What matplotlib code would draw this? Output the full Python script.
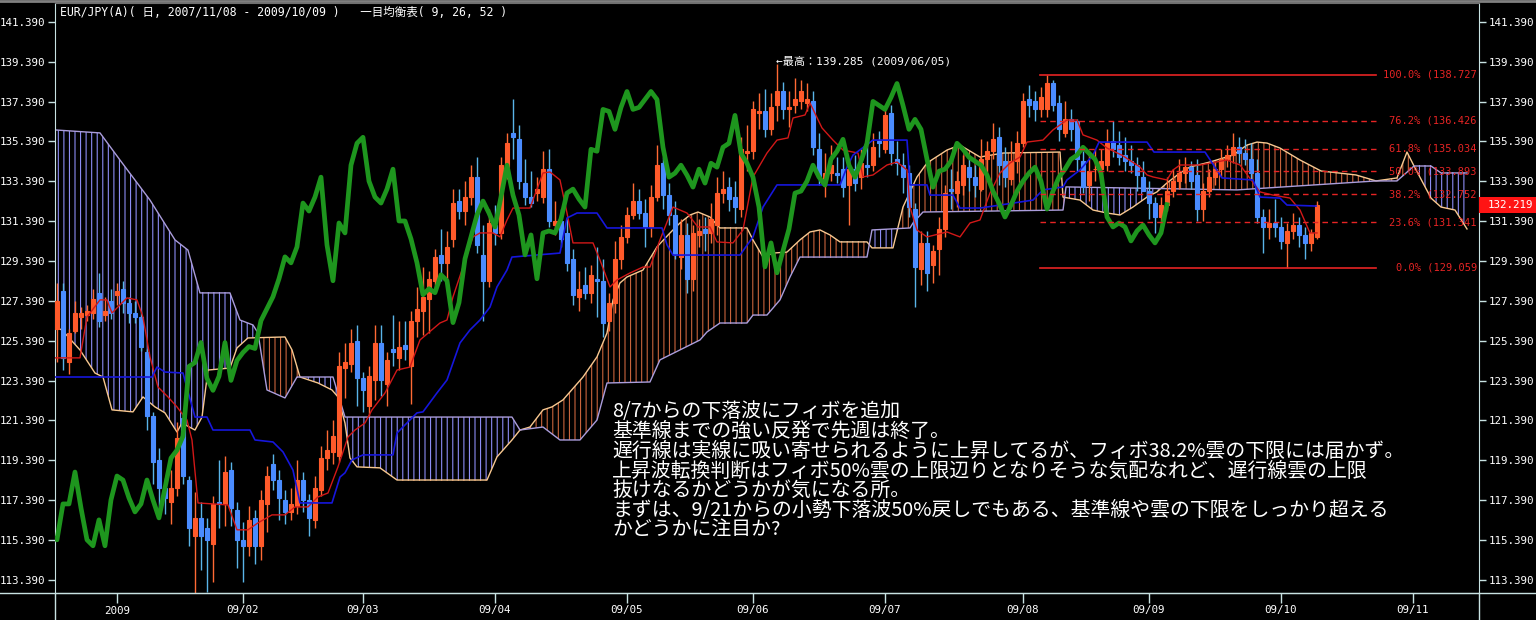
import matplotlib
matplotlib.use("Agg")
import matplotlib.pyplot as plt
import matplotlib.transforms as mtransforms
from matplotlib import font_manager
from matplotlib.patches import Polygon, Rectangle
from matplotlib.lines import Line2D
import numpy as np

plt.rcParams['font.family'] = ['Noto Sans CJK JP', 'DejaVu Sans']
plt.rcParams['hatch.linewidth'] = 0.8

# ---- daily candles, bar 0 = 2009/01/01 (first bar -10, last bar 200 = 2009/10/09)
first_bar = -10
opens = [
    126.0, 127.9, 124.3, 125.9, 126.6, 126.7, 126.8, 127.8, 126.7, 127.4,
    127.7, 128.0, 127.3, 126.8, 126.6, 124.8, 121.6, 119.4, 118.0, 117.3,
    118.0, 121.5, 118.4, 115.6, 116.5, 116.0, 115.2, 117.3, 117.2, 118.9,
    116.9, 115.4, 115.1, 116.5, 115.1, 117.2, 119.2, 118.4, 117.4, 116.8,
    117.1, 118.4, 117.4, 116.4, 117.9, 119.5, 119.8, 119.6, 124.0, 124.2,
    125.4, 123.5, 122.1, 123.4, 125.3, 123.2, 125.0, 124.5, 125.2, 124.1,
    126.4, 126.9, 127.5, 128.4, 129.7, 129.3, 130.5, 132.4, 131.9, 132.6,
    133.6, 129.7, 128.4, 131.2, 130.8, 134.1, 135.8, 135.5, 133.3, 132.6,
    132.8, 132.6, 134.0, 131.2, 131.4, 130.8, 129.5, 127.6, 128.2, 127.8,
    128.5, 128.4, 126.4, 127.3, 129.5, 130.6, 131.7, 132.4, 131.8, 131.1,
    132.6, 134.3, 132.7, 131.7, 129.6, 130.7, 128.5, 130.7, 131.0, 130.8,
    131.2, 132.8, 133.1, 132.6, 132.0, 134.8, 134.9, 136.8, 136.9, 136.0,
    137.2, 137.9, 137.0, 137.2, 137.4, 137.3, 137.4, 135.0, 133.5, 133.8,
    133.8, 134.0, 133.2, 134.0, 133.6, 134.2, 134.2, 135.4, 135.0, 136.8,
    134.5, 134.2, 133.8, 132.0, 129.0, 130.3, 129.2, 130.0, 131.0, 133.0,
    132.8, 133.2, 134.1, 133.6, 133.0, 134.5, 134.9, 135.6, 134.4, 133.5,
    134.4, 135.3, 137.5, 137.4, 137.0, 137.0, 138.3, 137.3, 135.8, 136.5,
    136.4, 134.4, 133.2, 134.0, 134.0, 134.2, 135.4, 135.2, 134.7, 134.4,
    134.2, 133.6, 132.9, 132.3, 131.6, 132.2, 132.9, 133.4, 133.8, 134.1,
    133.7, 132.0, 132.9, 133.6, 134.0, 134.5, 134.7, 135.1, 134.8, 134.5,
    133.8, 131.6, 131.1, 131.3, 131.1, 130.3, 130.9, 131.2, 130.7, 130.3,
    130.6]
highs = [
    128.3, 128.3, 126.0, 127.4, 127.1, 127.2, 128.0, 128.8, 127.6, 128.0,
    128.3, 128.4, 127.6, 127.4, 126.9, 125.0, 121.8, 120.0, 118.5, 118.9,
    121.3, 121.8, 118.6, 117.8, 117.3, 116.5, 117.6, 119.4, 119.6, 119.3,
    117.3, 116.3, 117.1, 116.9, 117.9, 119.1, 119.7, 118.9, 117.9, 118.0,
    119.4, 118.8, 117.7, 118.6, 120.1, 120.9, 121.4, 124.8, 125.3, 126.0,
    126.2, 123.8, 124.1, 126.2, 126.2, 124.8, 126.7, 126.4, 126.4, 126.9,
    128.1, 129.1, 128.9, 130.0, 131.0, 130.9, 133.0, 133.0, 133.4, 134.2,
    134.6, 131.2, 132.0, 132.2, 134.6, 135.8, 137.5, 136.2, 134.5, 133.9,
    133.6, 134.9, 135.0, 132.4, 132.0, 131.5, 130.0, 128.9, 129.1, 129.2,
    130.1, 129.5, 127.8, 130.4, 131.2, 132.1, 133.3, 133.0, 132.5, 133.2,
    135.2, 134.6, 133.3, 132.4, 131.5, 131.3, 131.2, 131.5, 131.6, 132.3,
    133.6, 133.9, 133.6, 133.4, 135.6, 136.2, 137.4, 137.8, 138.0, 137.8,
    139.285, 138.4, 137.9, 138.6, 138.5, 138.3, 137.9, 135.8, 134.8, 135.2,
    134.6, 134.6, 134.5, 134.7, 135.0, 135.2, 135.8, 135.9, 137.2, 137.2,
    135.4, 134.8, 134.2, 132.3, 130.9, 130.9, 130.2, 131.6, 133.2, 134.0,
    133.9, 134.7, 134.7, 134.2, 135.5, 135.4, 136.3, 136.1, 135.1, 135.4,
    135.9, 137.8, 138.2, 137.9, 138.1, 138.727, 138.5, 137.7, 137.4, 137.0,
    136.5, 134.9, 134.9, 135.0, 135.0, 136.0, 136.4, 135.9, 135.6, 135.2,
    134.6, 134.4, 133.4, 132.6, 132.6, 133.6, 134.0, 134.5, 134.6, 134.4,
    134.5, 133.3, 134.0, 134.4, 135.0, 135.2, 135.8, 135.6, 135.5, 135.3,
    134.5, 132.0, 132.0, 132.5, 131.6, 131.3, 131.8, 131.6, 131.1, 131.0,
    132.4]
lows = [
    124.3, 123.9, 123.7, 125.8, 126.0, 126.4, 126.5, 126.1, 126.4, 126.5,
    127.2, 126.8, 126.3, 126.3, 124.9, 120.9, 118.2, 116.7, 116.7, 116.2,
    117.6, 118.2, 115.1, 112.7, 113.9, 112.8, 113.3, 116.0, 116.1, 116.1,
    114.0, 113.3, 114.6, 114.2, 114.4, 115.8, 117.9, 116.4, 116.2, 116.4,
    116.7, 116.8, 115.6, 116.0, 117.6, 118.9, 119.2, 119.3, 122.5, 123.8,
    122.1, 121.8, 121.6, 122.4, 122.6, 122.1, 124.1, 123.9, 124.4, 122.2,
    125.6, 125.7, 125.8, 128.0, 128.4, 128.0, 130.1, 131.5, 131.2, 132.2,
    129.8, 126.4, 128.1, 130.2, 130.5, 133.5, 134.5, 133.0, 132.2, 132.1,
    132.4, 132.3, 131.1, 130.7, 130.1, 128.9, 127.2, 126.9, 127.5, 127.3,
    126.6, 125.6, 125.9, 126.8, 129.0, 130.3, 131.5, 131.5, 130.1, 130.6,
    132.4, 132.0, 131.2, 129.5, 129.0, 127.8, 127.9, 130.1, 129.9, 130.3,
    130.7, 132.3, 131.9, 131.3, 131.6, 133.9, 134.5, 136.0, 135.6, 135.7,
    136.4, 136.5, 136.1, 136.8, 137.0, 136.9, 134.7, 133.2, 132.6, 133.4,
    133.3, 132.6, 131.2, 132.9, 133.0, 133.6, 133.9, 134.6, 134.8, 134.2,
    133.7, 132.8, 131.6, 127.1, 128.2, 127.9, 128.3, 128.7, 130.6, 132.0,
    132.1, 132.7, 132.9, 132.6, 132.9, 133.7, 134.5, 133.2, 133.1, 133.2,
    133.8, 135.1, 136.6, 136.4, 136.6, 136.6, 136.9, 135.4, 135.6, 135.4,
    133.9, 132.8, 132.4, 133.4, 133.7, 133.9, 134.6, 134.2, 133.9, 133.8,
    132.9, 132.9, 131.5, 130.8, 131.0, 131.9, 132.6, 133.0, 133.3, 133.0,
    131.4, 131.4, 132.6, 133.2, 133.6, 134.1, 134.3, 134.3, 134.2, 133.5,
    131.3, 129.8, 130.5, 130.6, 130.0, 129.059, 130.5, 130.1, 129.5, 129.9,
    130.5]
closes = [
    127.4, 124.5, 125.8, 126.8, 126.8, 126.9, 127.5, 126.4, 126.9, 126.8,
    127.9, 127.3, 126.8, 126.6, 125.1, 121.6, 119.3, 118.0, 117.5, 118.0,
    120.5, 118.6, 116.0, 116.5, 115.6, 115.4, 117.2, 117.2, 118.8, 117.0,
    115.4, 115.1, 116.4, 115.1, 117.4, 118.6, 118.4, 117.5, 116.8, 117.2,
    118.4, 117.4, 116.5, 118.0, 119.5, 119.9, 120.6, 124.1, 124.3, 125.3,
    123.5, 122.9, 123.6, 125.3, 123.4, 124.4, 124.8, 125.1, 125.0, 126.4,
    127.0, 127.6, 128.5, 129.6, 129.3, 130.1, 132.3, 131.9, 132.6, 133.6,
    130.2, 128.4, 131.3, 130.8, 134.2, 135.3, 135.6, 133.4, 132.6, 132.3,
    133.0, 134.0, 131.4, 131.4, 130.5, 129.3, 127.7, 128.0, 127.8, 128.7,
    128.4, 126.3, 127.3, 129.5, 130.6, 131.7, 132.4, 131.8, 131.1, 132.6,
    134.2, 132.7, 131.7, 129.7, 130.7, 128.5, 130.8, 130.9, 130.8, 131.5,
    132.8, 133.0, 132.5, 132.1, 135.0, 134.9, 137.0, 136.9, 136.0, 137.1,
    137.9, 137.0, 137.1, 137.5, 137.9, 137.5, 135.1, 133.6, 133.8, 134.2,
    133.7, 133.1, 134.0, 133.3, 134.3, 134.1, 135.1, 135.3, 136.7, 134.8,
    134.3, 133.6, 132.1, 129.1, 130.3, 128.8, 129.9, 131.0, 132.8, 132.9,
    133.4, 134.2, 133.6, 133.2, 134.5, 134.9, 135.5, 134.2, 133.6, 134.4,
    135.3, 137.4, 137.2, 137.0, 137.6, 138.3, 137.2, 136.0, 136.5, 136.0,
    134.5, 133.1, 133.9, 134.0, 134.4, 135.3, 135.0, 134.6, 134.4, 134.2,
    133.7, 132.9, 132.3, 131.6, 132.2, 132.9, 133.4, 133.8, 134.1, 133.4,
    132.0, 132.9, 133.6, 134.0, 134.5, 134.7, 135.1, 134.8, 134.5, 133.8,
    131.6, 131.1, 131.3, 131.1, 130.4, 130.9, 131.2, 130.7, 130.3, 130.8,
    132.219]

# ---- ichimoku lines (bar, price)
tenkan_x = [-10.33, -6.17, -5.0, -2.83, -1.67, -0.83, 0.83, 1.67, 3.33, 4.33,
            5.5, 6.83, 8.5, 10.0, 11.67, 12.5, 13.5, 18.5, 20.0, 21.83,
            23.5, 25.83, 28.0, 29.67, 31.83, 33.5, 35.17, 36.83, 38.5, 39.67,
            41.33, 42.5, 44.67, 46.67, 48.83, 50.5, 53.83, 55.0, 56.0, 57.67,
            59.33, 60.5, 62.67, 63.83, 65.0, 66.0, 68.83, 71.0, 72.17, 73.83,
            75.0, 76.0, 79.33, 80.5, 82.17, 83.33, 85.5, 87.67, 88.83, 90.5,
            92.67, 95.0, 96.83, 98.83, 100.0, 102.67, 104.33, 106.0, 108.33, 110.0,
            111.83, 112.67, 114.67, 115.5, 117.5, 119.33, 121.0, 123.5, 124.33, 126.0,
            128.33, 130.0, 131.67, 132.17, 133.33, 135.0, 138.33, 140.5, 142.17, 143.83,
            145.5, 147.17, 148.83, 150.5, 151.67, 154.33, 156.0, 158.33, 160.0, 161.0,
            163.33, 165.0, 167.5, 170.5, 171.67, 172.67, 175.0, 176.0, 177.17, 180.5,
            185.0, 187.17, 190.5, 192.67, 195.5, 197.17, 198.83, 200.0]
tenkan_y = [124.53, 124.53, 126.58, 127.44, 127.44, 126.78, 127.29, 127.54, 127.44, 126.58,
            124.58, 123.07, 122.57, 122.07, 121.41, 120.41, 117.25, 117.15, 115.90, 115.90,
            116.25, 116.65, 116.65, 117.05, 117.05, 117.55, 117.75, 119.06, 120.56, 120.91,
            121.26, 121.92, 122.77, 123.92, 124.07, 125.43, 126.28, 126.43, 127.59, 129.09,
            130.60, 130.80, 130.80, 130.60, 131.45, 132.05, 132.05, 133.81, 133.86, 133.46,
            131.80, 130.30, 130.30, 129.44, 128.09, 128.44, 128.79, 129.09, 129.09, 130.45,
            132.10, 131.80, 131.10, 131.10, 130.35, 130.30, 130.95, 133.61, 134.81, 135.46,
            135.57, 136.57, 136.72, 137.32, 136.07, 135.46, 134.96, 134.81, 133.61, 133.71,
            134.21, 134.36, 133.96, 132.10, 130.95, 130.60, 130.85, 130.60, 131.30, 131.45,
            132.80, 133.81, 134.31, 134.61, 135.36, 135.46, 135.97, 136.47, 136.47, 135.72,
            135.46, 135.06, 134.70, 134.11, 133.71, 133.61, 133.46, 133.96, 134.21, 134.21,
            134.46, 134.21, 132.86, 132.70, 132.55, 131.95, 130.80, 130.80]

kijun_x = [-10.33, 5.83, 6.67, 8.0, 11.0, 13.0, 15.0, 16.0, 22.17, 23.0,
           26.0, 27.67, 29.33, 30.5, 35.83, 37.17, 38.0, 39.17, 41.0, 46.0,
           46.67, 50.0, 51.0, 53.33, 55.0, 57.17, 58.83, 60.5, 62.17, 63.33,
           65.0, 65.83, 73.83, 75.0, 76.67, 80.0, 81.67, 90.83, 91.67, 92.67,
           103.83, 106.0, 107.67, 110.0, 120.5, 121.67, 122.67, 126.0, 131.67, 132.17,
           135.0, 135.5, 139.33, 140.5, 143.83, 147.17, 152.67, 154.33, 157.67, 158.33,
           160.5, 162.67, 163.67, 171.67, 172.83, 181.33, 184.17, 189.33, 190.5, 193.83,
           195.0, 199.83]
kijun_y = [123.57, 123.57, 124.07, 123.82, 123.77, 121.56, 121.56, 120.91, 120.91, 120.41,
           120.31, 119.81, 118.90, 117.25, 117.25, 118.55, 118.76, 119.41, 119.66, 119.66,
           120.76, 121.77, 121.82, 122.77, 123.42, 125.28, 125.93, 126.43, 127.08, 128.09,
           128.94, 129.59, 129.79, 131.55, 131.80, 131.80, 131.05, 131.05, 130.20, 129.69,
           129.69, 130.60, 132.10, 133.21, 133.21, 134.11, 134.71, 135.46, 135.46, 133.21,
           133.21, 132.70, 132.70, 132.05, 132.05, 132.20, 132.45, 132.96, 133.11, 133.46,
           133.96, 134.71, 135.36, 135.36, 134.86, 134.86, 133.56, 133.46, 132.60, 132.55,
           132.20, 132.15]

spanA_x = [-10.33, -9.17, -6.17, -3.67, -2.33, -0.83, 2.67, 4.33, 6.33, 8.0,
           10.0, 10.83, 13.0, 14.17, 15.17, 18.83, 20.0, 21.83, 28.0, 29.17,
           30.5, 33.5, 35.83, 36.83, 38.0, 38.83, 40.0, 43.83, 46.67, 61.67,
           63.33, 65.83, 67.17, 68.83, 71.0, 72.5, 74.33, 77.67, 80.0, 81.67,
           82.67, 83.83, 85.0, 87.67, 90.0, 92.17, 93.83, 95.5, 96.83, 98.83,
           100.5, 105.0, 106.0, 107.67, 109.33, 111.67, 113.83, 115.5, 117.17, 118.83,
           120.5, 125.0, 125.83, 129.33, 131.0, 133.33, 135.0, 138.33, 140.5, 143.83,
           147.67, 157.17, 157.67, 160.5, 162.67, 165.0, 167.17, 169.33, 171.67, 173.33,
           175.0, 177.17, 178.83, 182.17, 186.0, 188.33, 190.0, 191.67, 193.83, 197.17,
           200.67, 206.5, 209.83, 213.33, 215.0, 216.17, 219.0, 220.67, 223.0, 225.0]
spanA_y = [126.08, 125.93, 124.93, 123.77, 123.57, 121.92, 121.82, 122.57, 122.07, 121.77,
           120.81, 121.26, 120.91, 121.56, 123.92, 124.02, 125.03, 125.53, 125.58, 124.93,
           123.57, 123.27, 122.92, 122.57, 121.26, 119.51, 119.06, 119.01, 118.40, 118.40,
           119.56, 120.41, 120.91, 121.06, 121.92, 122.07, 122.42, 123.57, 124.58, 125.78,
           127.44, 128.29, 128.59, 128.94, 130.10, 130.80, 131.30, 131.70, 131.85, 131.60,
           131.05, 131.05, 130.45, 129.59, 129.79, 129.84, 130.45, 130.85, 130.95, 130.70,
           130.35, 130.35, 130.05, 130.05, 132.10, 133.61, 134.31, 134.96, 135.21, 134.61,
           134.81, 134.86, 132.60, 132.45, 131.95, 131.80, 131.70, 132.10, 132.60, 132.86,
           133.31, 133.81, 134.11, 134.36, 134.71, 135.21, 135.36, 135.31, 135.06, 134.46,
           133.91, 133.71, 133.41, 133.56, 134.86, 134.16, 132.55, 132.10, 131.95, 131.00]

spanB_x = [-10.33, -2.83, 0.5, 5.5, 9.67, 11.83, 13.83, 18.83, 20.5, 22.67,
           23.5, 25.0, 28.0, 30.0, 36.0, 38.0, 65.83, 67.17, 71.0, 73.83,
           77.17, 80.0, 81.67, 88.83, 90.5, 97.17, 98.33, 100.5, 105.0, 106.0,
           108.33, 110.5, 112.17, 113.83, 125.0, 125.83, 132.17, 132.67, 134.33, 157.67,
           158.17, 186.67, 209.83, 213.33, 216.17, 219.0, 220.67, 225.0]
spanB_y = [135.97, 135.82, 134.46, 132.45, 130.45, 129.94, 127.79, 127.79, 126.43, 126.18,
           125.78, 122.92, 122.52, 123.57, 123.57, 121.56, 121.56, 120.91, 121.06, 120.41,
           120.41, 121.41, 123.27, 123.32, 124.43, 125.43, 125.83, 126.28, 126.28, 126.68,
           126.68, 127.44, 128.59, 129.59, 129.59, 130.95, 131.05, 131.30, 131.85, 131.95,
           133.11, 132.96, 133.41, 133.41, 134.16, 134.16, 133.81, 133.81]
chikou_lag = 25

# ---- fibonacci retracement of the 8/7 down wave
fib_levels = [138.727, 136.426, 135.034, 133.893, 132.752, 131.341, 129.059]
fib_names = ['100.0%', '76.2%', '61.8%', '50.0%', '38.2%', '23.6%', '0.0%']
fib_x0, fib_x1 = 153.8, 209.8

month_bars = [0, 21, 41, 63, 85, 106, 128, 151, 172, 194, 216]
month_labels = ['2009', '09/02', '09/03', '09/04', '09/05', '09/06',
                '09/07', '09/08', '09/09', '09/10', '09/11']
price_ticks = [113.39, 115.39, 117.39, 119.39, 121.39, 123.39, 125.39,
               127.39, 129.39, 131.39, 133.39, 135.39, 137.39, 139.39, 141.39]
last_price = 132.219
high_price, high_date, high_bar = 139.285, '2009/06/05', 110

memo = ['8/7からの下落波にフィボを追加',
        '基準線までの強い反発で先週は終了。',
        '遅行線は実線に吸い寄せられるように上昇してるが、フィボ38.2%雲の下限には届かず。',
        '上昇波転換判断はフィボ50%雲の上限辺りとなりそうな気配なれど、遅行線雲の上限',
        '抜けなるかどうかが気になる所。',
        'まずは、9/21からの小勢下落波50%戻しでもある、基準線や雲の下限をしっかり超える',
        'かどうかに注目か?']


def has_font(name):
    try:
        font_manager.findfont(name, fallback_to_default=False)
        return True
    except Exception:
        return False


if has_font('Liberation Sans Narrow'):
    num_font, num_size = 'Liberation Sans Narrow', 9
else:
    num_font, num_size = 'DejaVu Sans Mono', 7.8
mono = 'DejaVu Sans Mono'

# ---------------------------------------------------------------------------
W, H = 1536, 620
fig = plt.figure(figsize=(W / 100, H / 100), dpi=100, facecolor='black')
ax = fig.add_axes([55 / W, 27 / H, 1424 / W, 590 / H], facecolor='black')
ax.set_xlim(-10.33, 227.0)
ax.set_ylim(112.73, 142.34)
ymin, ymax = ax.get_ylim()

axis_col = '#c8e2e2'

# cloud: hatched polygon between span A and span B, split by which is on top
ax_ = np.array(spanA_x); ay_ = np.array(spanA_y)
bx_ = np.array(spanB_x); by_ = np.array(spanB_y)
cloud = np.column_stack([np.r_[ax_, bx_[::-1]], np.r_[ay_, by_[::-1]]])
below_a = np.column_stack([np.r_[ax_[0], ax_, ax_[-1]], np.r_[ymin - 20, ay_, ymin - 20]])
above_a = np.column_stack([np.r_[ax_[0], ax_, ax_[-1]], np.r_[ymax + 20, ay_, ymax + 20]])
for clip_pts, col in [(below_a, '#c8643c'), (above_a, '#8c8cf4')]:
    p = Polygon(cloud, closed=True, facecolor='none', edgecolor=col,
                hatch='|||', lw=0, zorder=1)
    ax.add_patch(p)
    p.set_clip_path(Polygon(clip_pts, closed=True, transform=ax.transData))
ax.plot(spanA_x, spanA_y, color='#f8c890', lw=1, zorder=2)
ax.plot(spanB_x, spanB_y, color='#ab9ddc', lw=1, zorder=2)

# candles
bars = np.arange(first_bar, first_bar + len(closes))
o, h, l, c = map(np.array, (opens, highs, lows, closes))
up = c >= o
body_col = np.where(up, '#ff5a2a', '#4a8cff')
wick_col = np.where(up, '#ff6a34', '#5ab4e8')
ax.vlines(bars, l, h, colors=wick_col, lw=1, zorder=3)
ax.bar(bars, np.abs(c - o), bottom=np.minimum(o, c), width=0.6,
       color=body_col, edgecolor=body_col, lw=0.8, zorder=4)

# tenkan / kijun / chikou
ax.plot(tenkan_x, tenkan_y, color='#d21818', lw=1, zorder=5)
ax.plot(kijun_x, kijun_y, color='#1616dc', lw=1.2, zorder=5)
ax.plot(bars - chikou_lag, c, color='#1e961e', lw=3.4, zorder=6,
        solid_joinstyle='round')

# fibonacci
fib_col = '#e62424'
bt = mtransforms.blended_transform_factory(ax.transAxes, ax.transData)
for lev, name in zip(fib_levels, fib_names):
    solid = name in ('100.0%', '0.0%')
    ax.plot([fib_x0, fib_x1], [lev, lev], color=fib_col, lw=1.2 if solid else 1,
            ls='-' if solid else (0, (4, 3)), zorder=7)
    ax.text(0.9985, lev, '%s (%.3f' % (name, lev), color=fib_col, fontsize=7.5,
            family=mono, ha='right', va='center', zorder=8, transform=bt)

# highest price note
ax.text(high_bar - 0.2, high_price + 0.15, '←最高：%.3f (%s)' % (high_price, high_date),
        color='white', fontsize=8, family=[mono, 'Noto Sans CJK JP'],
        ha='left', va='center', zorder=8)

# axes styling
for side in ('left', 'right', 'bottom'):
    ax.spines[side].set_color(axis_col)
ax.spines['top'].set_color('#707070')
ax.set_yticks(price_ticks)
ax.set_yticklabels(['%.3f' % v for v in price_ticks])
ax.set_xticks(month_bars)
ax.set_xticklabels(month_labels)
ax.tick_params(axis='y', left=True, right=True, labelleft=True, labelright=True,
               colors=axis_col, labelcolor='white', length=5, width=1, pad=2)
ax.tick_params(axis='x', colors=axis_col, labelcolor='white', length=7, width=1, pad=2)
for lab in ax.get_xticklabels() + ax.get_yticklabels():
    lab.set_family(num_font)
    lab.set_fontsize(num_size)

# last price tag on the right axis
ax.add_patch(Rectangle((1.0, last_price - 0.4), 57 / 1424, 0.8, transform=bt,
                       facecolor='#ff1414', edgecolor='none', clip_on=False, zorder=9))
ax.text(1.0 + 54 / 1424, last_price, '%.3f' % last_price, transform=bt, color='white',
        fontsize=num_size, family=num_font, ha='right', va='center', clip_on=False,
        zorder=10)

# frame lines running to the figure edges
fig.add_artist(Line2D([0, 1], [27 / H, 27 / H], color=axis_col, lw=1))
fig.add_artist(Line2D([55 / W, 55 / W], [0, 27 / H], color=axis_col, lw=1))
fig.add_artist(Line2D([1479 / W, 1479 / W], [0, 27 / H], color=axis_col, lw=1))
fig.add_artist(Line2D([0, 1], [1 - 1 / H, 1 - 1 / H], color='#808080', lw=2))

fig.text(60 / W, 1 - 12 / H,
         'EUR/JPY(A)( 日, 2007/11/08 - 2009/10/09 )   一目均衡表( 9, 26, 52 )',
         color='white', fontsize=8.3, family=[mono, 'Noto Sans CJK JP'], va='center')

for k, line in enumerate(memo):
    fig.text(612 / W, 1 - (412 + 19.7 * k) / H, line, color='white',
             fontsize=14.3, va='center')

fig.savefig('out.png', dpi=100, facecolor='black')
